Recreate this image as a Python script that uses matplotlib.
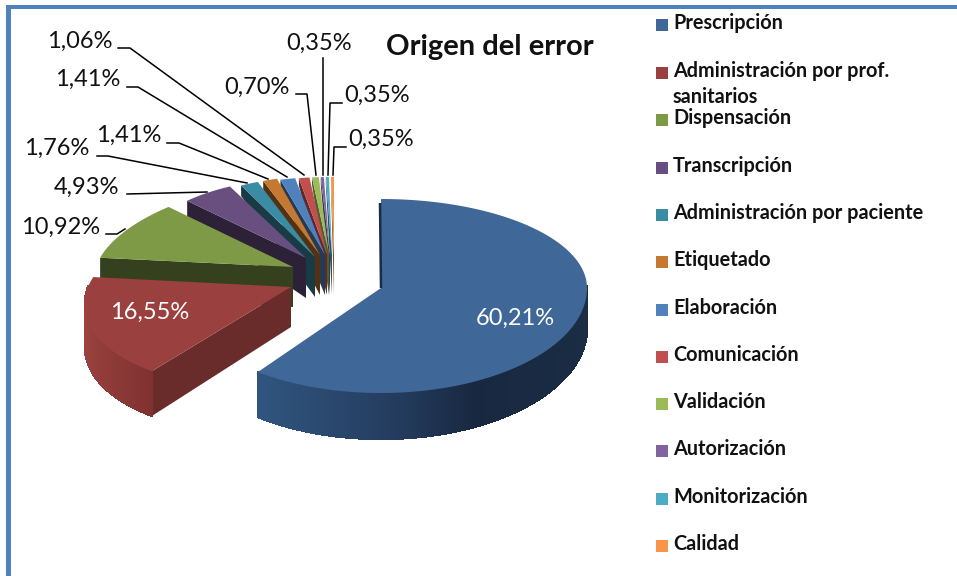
import numpy as np
import matplotlib
matplotlib.use('Agg')
import matplotlib.pyplot as plt
from matplotlib.colors import to_rgb
from matplotlib.collections import PolyCollection
from matplotlib.patches import Polygon, Rectangle

plt.rcParams['font.family'] = ['Lato', 'DejaVu Sans']

categories = ['Prescripción', 'Administración por prof.\nsanitarios', 'Dispensación',
              'Transcripción', 'Administración por paciente', 'Etiquetado', 'Elaboración',
              'Comunicación', 'Validación', 'Autorización', 'Monitorización', 'Calidad']
values = [60.21, 16.55, 10.92, 4.93, 1.76, 1.41, 1.41, 1.06, 0.70, 0.35, 0.35, 0.35]
value_labels = ['60,21%', '16,55%', '10,92%', '4,93%', '1,76%', '1,41%', '1,41%',
                '1,06%', '0,70%', '0,35%', '0,35%', '0,35%']
colors = ['#3f6797', '#9a403e', '#7f9a47', '#694f80', '#3a8ca4', '#c5782f', '#4f81bd',
          '#c0504d', '#9bbb59', '#8064a2', '#4bacc6', '#f79646']

# where each exploded slice sits, and how it is squashed, in pixels
apex_x = [381, 291, 293, 306, 315, 320, 325, 327, 329, 330, 332, 334]
apex_y = [288, 287, 267, 258, 257, 255, 255, 255, 255, 255, 255, 255]
radius_x = [206, 203, 197, 170, 165, 164, 170, 160, 155, 140, 140, 140]
persp = [0, 0.18, 0.135, 0, 0, 0, 0, 0, 0, 0, 0, 0]
radius_up = [89, 90, 84, 80, 80, 79, 78, 78, 78, 78, 78, 78]
radius_down = 105
face_shade = [0.42, 0.68, 0.42, 0.42, 0.42, 0.42, 0.45, 0.5, 0.5, 0.5, 0.5, 0.5]

# label anchor and leader line for each slice
label_x = [515, 150, 61, 87, 57, 129, 88, 80, 257, 319, 377, 381]
label_y = [318, 312, 227, 187, 148, 135, 79, 41, 87, 43, 95, 139]
leaders = [None, None,
           [(106, 234), (117, 234), (125, 229)],
           [(127, 194), (207, 192)],
           [(97, 156), (108, 156), (247, 183)],
           [(167, 143), (179, 143), (268, 179)],
           [(127, 87), (138, 87), (287, 177)],
           [(118, 48), (130, 48), (304, 175)],
           [(296, 94), (307, 94), (316, 175)],
           [(323, 58), (323, 175)],
           [(342, 103), (330, 103), (328, 175)],
           [(346, 147), (334, 147), (333, 175)]]
legend_y = [23, 71, 118, 166, 213, 260, 308, 355, 402, 449, 497, 544]


def rim_point(i, angle):
    # angle clockwise from top, degrees
    t = np.radians(angle)
    u = np.sin(t)
    v = np.cos(t)
    a = radius_x[i] * (1 - persp[i] * v)
    b = np.where(v > 0, radius_up[i], radius_down)
    return apex_x[i] + a * u, apex_y[i] - b * v, u, v


def depth(v):
    return np.where(v > 0, 40 - 33 * v, 40 - 6 * v)


def shade(c, f):
    return tuple(np.array(to_rgb(c)) * f)


fig = plt.figure(figsize=(9.57, 5.76), dpi=100)
ax = fig.add_axes([0, 0, 1, 1])
ax.set_xlim(0, 957)
ax.set_ylim(576, 0)
ax.axis('off')

ax.add_patch(Rectangle((6, 5), 951, 3.5, color='#4f81bd', lw=0))
ax.add_patch(Rectangle((6, 5), 4.5, 571, color='#4f81bd', lw=0))

edges = np.concatenate([[0], np.cumsum(values)]) / np.sum(values) * 360

# back slices first, Prescripcion ends up on top
for i in range(len(values) - 1, -1, -1):
    start, end = edges[i], edges[i + 1]
    angles = np.linspace(start, end, max(int(end - start) * 2, 4))
    x, y, u, v = rim_point(i, angles)

    if i > 0:
        d0 = depth(v[0])
        face = [(apex_x[i], apex_y[i]), (x[0], y[0]), (x[0], y[0] + d0),
                (apex_x[i], apex_y[i] + 40)]
        ax.add_patch(Polygon(face, closed=True, fc=shade(colors[i], face_shade[i]), ec='none'))

    # outer wall for the two big slices, front part only
    if i < 2:
        front = v < 0.02
        xf, yf, uf, vf = x[front], y[front], u[front], v[front]
        df = depth(vf)
        polys = []
        cols = []
        for k in range(len(xf) - 1):
            polys.append([(xf[k], yf[k]), (xf[k + 1], yf[k + 1]),
                          (xf[k + 1], yf[k + 1] + df[k + 1]), (xf[k], yf[k] + df[k])])
            m = (uf[k] + uf[k + 1]) / 2
            if i == 0:
                c = [np.interp(m, [-0.6, 0.1, 0.45, 1.0], [p, q, r, s]) for p, q, r, s in
                     zip(to_rgb('#30557f'), to_rgb('#233b5c'), to_rgb('#182840'), to_rgb('#1a2d45'))]
            else:
                c = [np.interp(m, [-1.0, -0.6], [p, q]) for p, q in
                     zip(to_rgb('#9c4340'), to_rgb('#7f3230'))]
            cols.append(c)
        ax.add_collection(PolyCollection(polys, facecolors=cols, edgecolors=cols, linewidths=1,
                                         antialiased=False))

    if i == 0:
        # thin dark sliver along the upper cut of the big slice
        ax.plot([x[0] - 1, apex_x[0]], [y[0] + 4, apex_y[0]], color='#1a2d45', lw=1.8,
                solid_capstyle='butt')

    top = [(apex_x[i], apex_y[i])] + list(zip(x, y))
    ax.add_patch(Polygon(top, closed=True, fc=colors[i], ec='none'))

for i, txt in enumerate(value_labels):
    ax.text(label_x[i], label_y[i], txt, fontsize=17, ha='center', va='center',
            color='white' if i < 2 else '#111111')
    if leaders[i] is not None:
        lx, ly = zip(*leaders[i])
        ax.plot(lx, ly, color='black', lw=1.1)

ax.text(490, 47, 'Origen del error', fontsize=21, fontweight='bold', ha='center', va='center',
        color='#111111')

for i, name in enumerate(categories):
    ax.add_patch(Rectangle((656, legend_y[i] - 4), 12, 12, fc=colors[i], ec='none'))
    lines = name.split('\n')
    ax.text(673, legend_y[i], lines[0], fontsize=14.3, fontweight='bold', va='center', color='#111111')
    if len(lines) > 1:
        ax.text(673, legend_y[i] + 26, lines[1], fontsize=14.3, fontweight='bold', va='center',
                color='#111111')

fig.savefig('out.png', dpi=100)
